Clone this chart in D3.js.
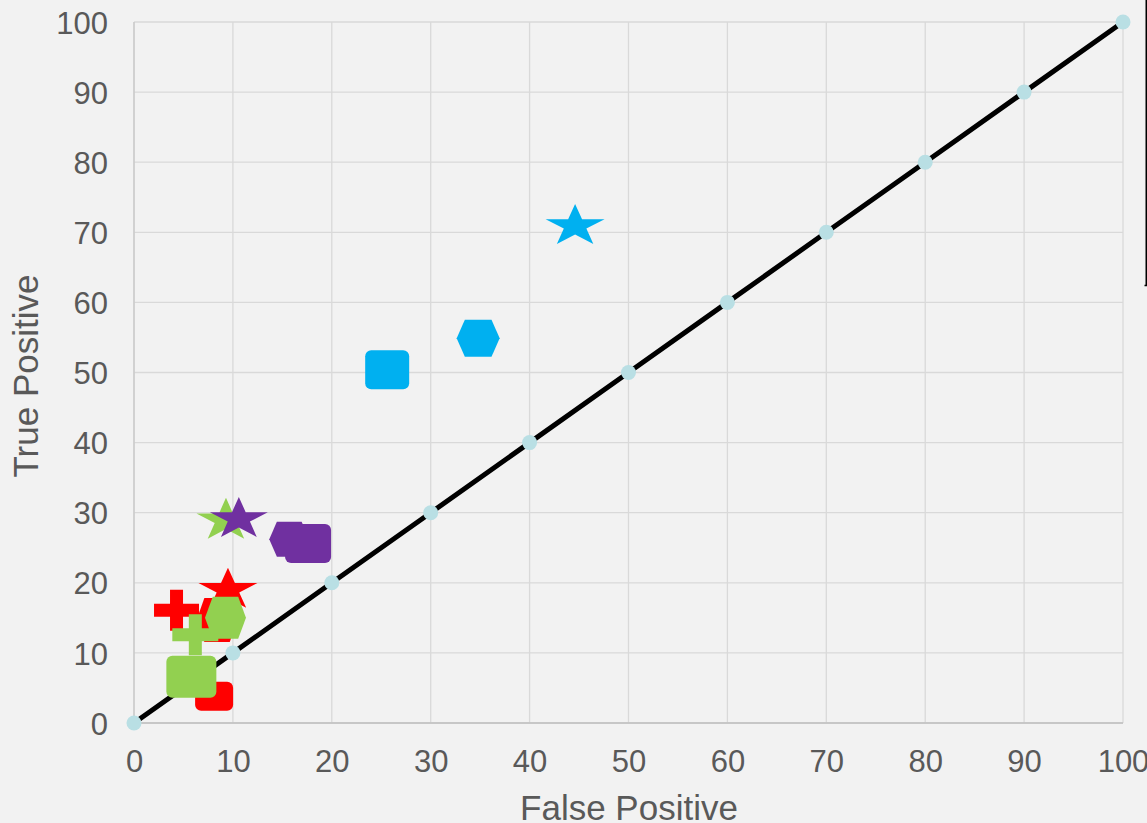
<!DOCTYPE html>
<html>
<head>
<meta charset="utf-8">
<script src="https://cdn.jsdelivr.net/npm/d3@7"></script>
<style>
  html, body { margin: 0; padding: 0; background: #f2f2f2; }
  svg { display: block; }
  text { font-family: "Liberation Sans", Arial, sans-serif; }
</style>
</head>
<body>
<svg id="chart" width="1147" height="823"></svg>
<script>
// Axis ticks
const xTicks = [0, 10, 20, 30, 40, 50, 60, 70, 80, 90, 100];
const yTicks = [0, 10, 20, 30, 40, 50, 60, 70, 80, 90, 100];

// Chance diagonal (false positive = true positive)
const diagonal = [0, 10, 20, 30, 40, 50, 60, 70, 80, 90, 100];

// Classifier results per group: [false positive, true positive]
const redPoints = [
  { shape: "star",    fp: 9.5, tp: 19.0 },
  { shape: "hexagon", fp: 8.4, tp: 14.7 },
  { shape: "square",  fp: 8.1, tp: 3.8 },
  { shape: "cross",   fp: 4.3, tp: 16.1 }
];
const greenPoints = [
  { shape: "star",    fp: 9.3, tp: 28.9 },
  { shape: "cross",   fp: 6.2, tp: 12.6 },
  { shape: "hexagon", fp: 9.25, tp: 15.0 },
  { shape: "square",  fp: 5.8, tp: 6.6 }
];
const purplePoints = [
  { shape: "star",    fp: 10.6, tp: 29.1 },
  { shape: "hexagon", fp: 15.7, tp: 26.2 },
  { shape: "square",  fp: 17.6, tp: 25.6 }
];
const bluePoints = [
  { shape: "star",    fp: 44.6, tp: 70.9 },
  { shape: "hexagon", fp: 34.8, tp: 54.9 },
  { shape: "square",  fp: 25.6, tp: 50.4 }
];

// Marker styling (colour and pixel size of each glyph)
const groups = [
  { points: redPoints,    color: "#ff0000",
    size: { star: [59, 40], hexagon: [41, 44], square: [38, 29], cross: [45, 41] } },
  { points: greenPoints,  color: "#92d050",
    size: { star: [59, 41], hexagon: [41, 42], square: [50, 42], cross: [46, 41] } },
  { points: purplePoints, color: "#7030a0",
    size: { star: [58, 40], hexagon: [40, 35], square: [46, 39] } },
  { points: bluePoints,   color: "#00b0f0",
    size: { star: [59, 40], hexagon: [43, 37], square: [44, 39] } }
];

const svg = d3.select("#chart");
const x = d3.scaleLinear().domain([0, 100]).range([134, 1123]);
const y = d3.scaleLinear().domain([0, 100]).range([723, 22]);

// Gridlines
const grid = svg.append("g");
grid.selectAll("line.v").data(xTicks).join("line")
  .attr("x1", d => x(d)).attr("x2", d => x(d))
  .attr("y1", y(100)).attr("y2", y(0))
  .attr("stroke", "#d9d9d9").attr("stroke-width", 1.3);
grid.selectAll("line.h").data(yTicks).join("line")
  .attr("x1", x(0)).attr("x2", x(100))
  .attr("y1", d => y(d)).attr("y2", d => y(d))
  .attr("stroke", "#d9d9d9").attr("stroke-width", 1.3);

// Axis lines
svg.append("line").attr("x1", x(0)).attr("x2", x(100)).attr("y1", y(0)).attr("y2", y(0))
  .attr("stroke", "#bfbfbf").attr("stroke-width", 1.5);
svg.append("line").attr("x1", x(0)).attr("x2", x(0)).attr("y1", y(100)).attr("y2", y(0))
  .attr("stroke", "#c8c8c8").attr("stroke-width", 1.3);

// Tick labels
const xAxis = svg.append("g").attr("transform", `translate(0,${y(0)})`)
  .call(d3.axisBottom(x).tickValues(xTicks).tickSize(0).tickFormat(d3.format("d")));
xAxis.select(".domain").remove();
xAxis.selectAll("text").attr("y", 49).attr("dy", 0)
  .style("font-size", "31px").attr("fill", "#595959")
  .style("font-family", "'Liberation Sans', Arial, sans-serif");

const yAxis = svg.append("g").attr("transform", `translate(${x(0)},0)`)
  .call(d3.axisLeft(y).tickValues(yTicks).tickSize(0).tickFormat(d3.format("d")));
yAxis.select(".domain").remove();
yAxis.selectAll("text").attr("x", -26).attr("dy", "0.36em")
  .style("font-size", "31px").attr("fill", "#595959")
  .style("font-family", "'Liberation Sans', Arial, sans-serif");

// Axis titles
svg.append("text").attr("x", 629).attr("y", 820).attr("text-anchor", "middle")
  .style("font-size", "35px").attr("fill", "#595959").text("False Positive");
svg.append("text").attr("transform", "translate(38,376) rotate(-90)")
  .attr("text-anchor", "middle")
  .style("font-size", "35px").attr("fill", "#595959").text("True Positive");

// Diagonal reference line with its points
svg.append("path").datum(diagonal)
  .attr("d", d3.line().x(d => x(d)).y(d => y(d)))
  .attr("fill", "none").attr("stroke", "#000").attr("stroke-width", 5);
svg.append("g").selectAll("circle").data(diagonal).join("circle")
  .attr("cx", d => x(d)).attr("cy", d => y(d)).attr("r", 7.5)
  .attr("fill", "#b9dfe4");

// Marker glyph paths centred on (0,0)
function starPath(w, h) {
  const R = 1, r = 0.382;
  const sx = w / (2 * Math.sin(72 * Math.PI / 180));
  const sy = h / (1 + Math.cos(36 * Math.PI / 180));
  const pts = [];
  for (let i = 0; i < 10; i++) {
    const a = -Math.PI / 2 + i * Math.PI / 5;
    const rad = i % 2 === 0 ? R : r;
    pts.push([Math.cos(a) * rad * sx, Math.sin(a) * rad * sy]);
  }
  return "M" + pts.map(p => p.join(",")).join("L") + "Z";
}
function hexPath(w, h) {
  const o = w * 0.19;
  const pts = [[-w / 2, 0], [-w / 2 + o, -h / 2], [w / 2 - o, -h / 2],
               [w / 2, 0], [w / 2 - o, h / 2], [-w / 2 + o, h / 2]];
  return "M" + pts.map(p => p.join(",")).join("L") + "Z";
}
function crossPath(w, h) {
  const t = 13;
  const a = t / 2, bw = w / 2, bh = h / 2;
  const pts = [[-a, -bh], [a, -bh], [a, -a], [bw, -a], [bw, a], [a, a],
               [a, bh], [-a, bh], [-a, a], [-bw, a], [-bw, -a], [-a, -a]];
  return "M" + pts.map(p => p.join(",")).join("L") + "Z";
}

const markers = svg.append("g");
groups.forEach(g => {
  g.points.forEach(p => {
    const [w, h] = g.size[p.shape];
    const cx = x(p.fp), cy = y(p.tp);
    if (p.shape === "square") {
      markers.append("rect")
        .attr("x", cx - w / 2).attr("y", cy - h / 2)
        .attr("width", w).attr("height", h)
        .attr("rx", 6).attr("ry", 6)
        .attr("fill", g.color);
    } else {
      const d = p.shape === "star" ? starPath(w, h)
              : p.shape === "hexagon" ? hexPath(w, h)
              : crossPath(w, h);
      markers.append("path")
        .attr("transform", `translate(${cx},${cy})`)
        .attr("d", d)
        .attr("fill", g.color);
    }
  });
});

// Edge of the neighbouring panel at the right border
svg.append("path").attr("d", "M1146.25,0V285.5H1144.5")
  .attr("fill", "none").attr("stroke", "#000").attr("stroke-width", 1.5);
</script>
</body>
</html>
